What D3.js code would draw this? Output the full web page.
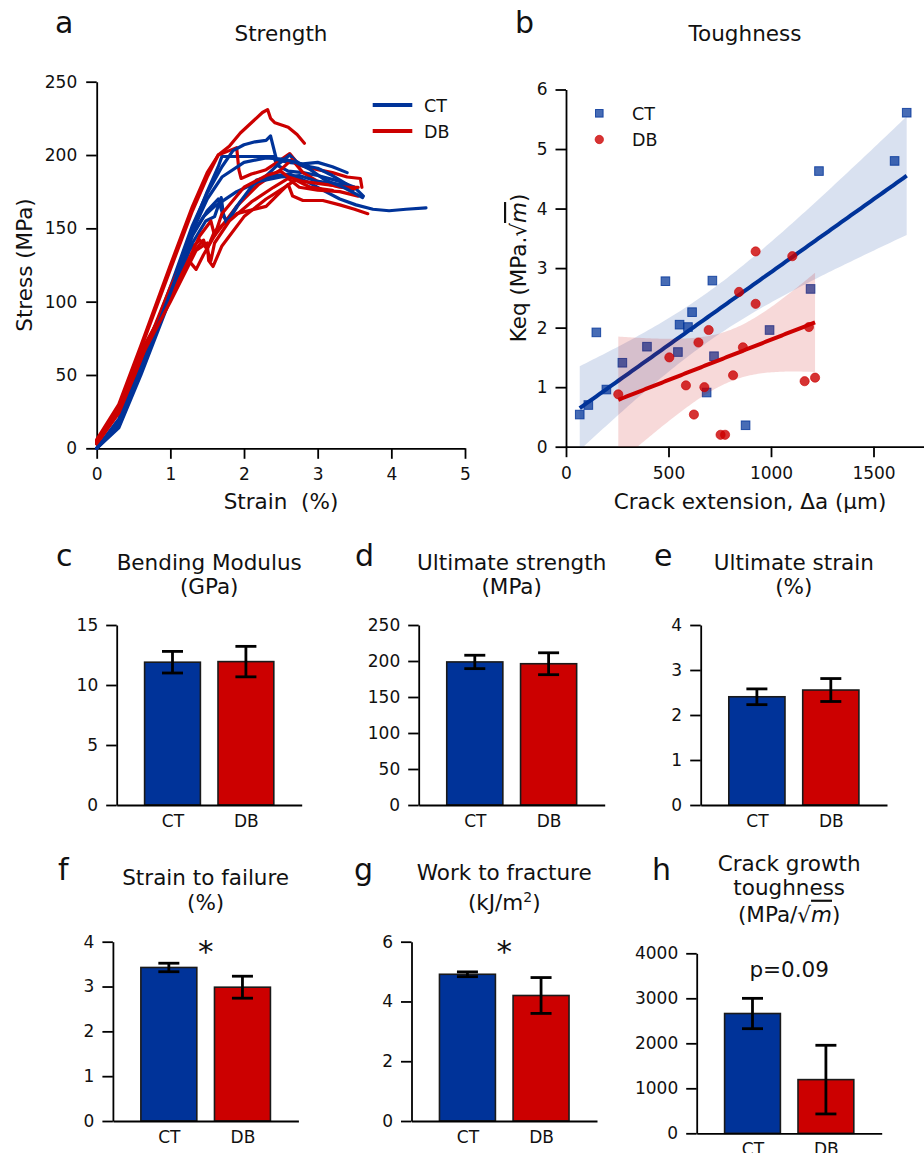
<!DOCTYPE html>
<html>
<head>
<meta charset="utf-8">
<script src="https://cdn.jsdelivr.net/npm/d3@7"></script>
<style>
  body { margin: 0; background: #fff; }
  svg { font-family: "DejaVu Sans", sans-serif; }
</style>
</head>
<body>
<svg id="fig" width="924" height="1153"></svg>
<script>
// ---- data ----
var groups = ["CT", "DB"];

// stress-strain curves, [strain %, stress MPa]
var ctCurves = [
  [[0,0],[0.3,18],[0.6,55],[1.0,108],[1.3,150],[1.5,175],[1.65,192],[1.7,199],[2.0,199],[2.4,199],[2.45,193],[2.6,189],[2.8,188],[3.0,186],[3.3,182],[3.5,178],[3.62,172]],
  [[0,0],[0.3,20],[0.6,57],[1.0,110],[1.3,152],[1.5,174],[1.7,192],[1.85,203],[2.0,207],[2.15,209],[2.3,210],[2.36,213],[2.4,205],[2.44,197],[2.6,195],[2.8,194],[3.0,195],[3.2,192],[3.4,188]],
  [[0,0],[0.3,15],[0.6,52],[1.0,104],[1.3,145],[1.5,162],[1.65,170],[1.72,158],[1.78,155],[1.95,168],[2.2,181],[2.45,193],[2.62,200],[2.7,196],[2.8,193],[3.0,191],[3.2,186],[3.4,180],[3.48,176]],
  [[0,0],[0.3,14],[0.6,50],[1.0,102],[1.3,140],[1.48,155],[1.6,158],[1.69,171],[1.72,160],[1.76,154],[1.9,165],[2.17,183],[2.4,186],[2.62,187],[2.85,182],[3.07,176],[3.3,170],[3.52,166],[3.75,163],[3.97,162],[4.2,163],[4.47,164]],
  [[0,0],[0.3,16],[0.6,53],[1.0,105],[1.3,146],[1.45,158],[1.6,165],[1.9,175],[2.2,182],[2.5,185],[2.75,186],[3.0,182],[3.3,180],[3.5,178]],
  [[0,0],[0.3,17],[0.6,54],[1.0,106],[1.3,148],[1.5,170],[1.7,185],[2.0,195],[2.3,198],[2.55,197],[2.7,195],[2.9,190],[3.1,183],[3.35,178],[3.61,171]]
];
var dbCurves = [
  [[0,6],[0.3,30],[0.6,70],[1.0,125],[1.3,165],[1.5,188],[1.65,200],[1.8,206],[1.95,215],[2.1,222],[2.25,229],[2.32,231],[2.36,225],[2.42,222],[2.6,219],[2.72,214],[2.82,208]],
  [[0,5],[0.3,28],[0.6,68],[1.0,122],[1.3,162],[1.5,185],[1.65,200],[1.8,203],[1.9,205],[1.93,190],[1.96,184],[2.1,187],[2.3,190],[2.45,195],[2.62,201],[2.75,193],[3.0,190],[3.2,188],[3.4,185],[3.58,184],[3.6,178]],
  [[0,3],[0.3,24],[0.6,60],[1.0,110],[1.25,135],[1.4,142],[1.5,136],[1.6,148],[1.9,160],[2.3,165],[2.5,175],[2.6,180],[2.66,172],[2.8,169],[3.07,169],[3.3,166],[3.5,163],[3.68,160]],
  [[0,3],[0.3,25],[0.6,63],[1.0,105],[1.25,128],[1.35,122],[1.45,132],[1.6,145],[1.9,165],[2.2,180],[2.5,190],[2.65,197],[2.8,188],[3.0,182],[3.3,178],[3.5,177]],
  [[0,4],[0.3,26],[0.6,64],[1.0,103],[1.3,133],[1.45,142],[1.5,135],[1.55,128],[1.6,140],[1.8,155],[2.1,168],[2.4,178],[2.6,184],[2.75,178],[3.0,176],[3.3,175],[3.55,172]],
  [[0,5],[0.3,27],[0.6,66],[1.0,102],[1.4,145],[1.55,155],[1.6,145],[1.7,160],[2.0,178],[2.3,186],[2.5,189],[2.6,185],[2.8,182],[3.1,180],[3.4,178],[3.55,178]],
  [[0,4],[0.3,25],[0.6,62],[1.0,100],[1.35,135],[1.5,140],[1.52,128],[1.58,124],[1.7,138],[2.0,158],[2.3,170],[2.55,178],[2.7,183],[2.9,178],[3.2,176]]
];
var strainTicks = [0, 1, 2, 3, 4, 5];
var stressTicks = [0, 50, 100, 150, 200, 250];

// toughness: crack extension (um) and Keq
var ctExt = [67, 109, 148, 197, 275, 395, 485, 546, 554, 595, 615, 686, 714, 722, 876, 993, 1193, 1234, 1603, 1662];
var ctKeq = [0.54, 0.70, 1.92, 0.96, 1.41, 1.68, 2.78, 1.59, 2.05, 2.01, 2.26, 0.91, 2.79, 1.52, 0.36, 1.96, 2.65, 4.63, 4.80, 5.61];
var dbExt = [255, 504, 585, 624, 646, 675, 696, 754, 776, 815, 844, 863, 925, 925, 1104, 1164, 1185, 1215];
var dbKeq = [0.88, 1.50, 1.03, 0.54, 1.75, 1.00, 1.96, 0.20, 0.20, 1.20, 2.60, 1.67, 3.28, 2.40, 3.20, 1.10, 2.01, 1.16];
var extTicks = [0, 500, 1000, 1500];
var keqTicks = [0, 1, 2, 3, 4, 5, 6];

// bar panels: mean and error per group
var modulusMean = [11.9, 11.95],  modulusErr = [0.9, 1.27],  modulusTicks = [0, 5, 10, 15];
var ultStrengthMean = [198.7, 196.2], ultStrengthErr = [9.3, 15.2], ultStrengthTicks = [0, 50, 100, 150, 200, 250];
var ultStrainMean = [2.405, 2.555], ultStrainErr = [0.175, 0.255], ultStrainTicks = [0, 1, 2, 3, 4];
var failStrainMean = [3.425, 2.985], failStrainErr = [0.095, 0.245], failStrainTicks = [0, 1, 2, 3, 4];
var workMean = [4.91, 4.2], workErr = [0.08, 0.6], workTicks = [0, 2, 4, 6];
var crackMean = [2662, 1193], crackErr = [337, 763], crackTicks = [0, 1000, 2000, 3000, 4000];

var blue = "#003399", red = "#cc0000";
var colors = [blue, red];

var svg = d3.select("#fig");

function styleAxis(g) {
  g.selectAll(".domain").attr("stroke", "#000").attr("stroke-width", 1.8);
  g.selectAll(".tick line").attr("stroke", "#000").attr("stroke-width", 1.8);
  g.selectAll(".tick text").attr("fill", "#111").style("font-size", "17px")
    .style("font-family", "DejaVu Sans");
}

function label(x, y, txt, size, anchor) {
  return svg.append("text").attr("x", x).attr("y", y)
    .attr("text-anchor", anchor || "middle")
    .style("font-size", size + "px").attr("fill", "#111").text(txt);
}

// ---- panel a: stress-strain ----
var xa = d3.scaleLinear().domain([0, 5]).range([96.7, 465]);
var ya = d3.scaleLinear().domain([0, 250]).range([448.3, 81.7]);

svg.append("g").attr("transform", "translate(0,448.3)")
  .call(d3.axisBottom(xa).tickValues(strainTicks).tickFormat(d3.format("d")).tickSize(10.5).tickPadding(9).tickSizeOuter(0))
  .call(styleAxis);
svg.append("g").attr("transform", "translate(96.7,0)")
  .call(d3.axisLeft(ya).tickValues(stressTicks).tickFormat(d3.format("d")).tickSize(10.5).tickPadding(9).tickSizeOuter(0))
  .call(styleAxis);

var lineA = d3.line().x(function(d) { return xa(d[0]); }).y(function(d) { return ya(d[1]); });
var curves = [];
for (var i = 0; i < Math.max(ctCurves.length, dbCurves.length); i++) {
  if (dbCurves[i]) curves.push({ c: red, d: dbCurves[i] });
  if (ctCurves[i]) curves.push({ c: blue, d: ctCurves[i] });
}
svg.append("g").selectAll("path").data(curves).join("path")
  .attr("d", function(d) { return lineA(d.d); })
  .attr("fill", "none").attr("stroke", function(d) { return d.c; })
  .attr("stroke-width", 3.2).attr("stroke-linejoin", "round").attr("stroke-linecap", "round");

groups.forEach(function(gname, i) {
  var y = 105 + i * 26;
  svg.append("line").attr("x1", 372.7).attr("x2", 412.3).attr("y1", y).attr("y2", y)
    .attr("stroke", colors[i]).attr("stroke-width", 4);
  label(424, y + 6.5, gname, 17.5, "start");
});

label(55, 33, "a", 30, "start");
label(281, 41, "Strength", 21.5);
label(281, 509, "Strain\u00a0\u00a0(%)", 21.5);
svg.append("text").attr("transform", "translate(31.5,265) rotate(-90)")
  .attr("text-anchor", "middle").style("font-size", "21.5px").attr("fill", "#111").text("Stress (MPa)");

// ---- panel b: toughness ----
var xb = d3.scaleLinear().domain([0, 1750]).range([566, 924.75]);
var yb = d3.scaleLinear().domain([0, 6]).range([446.7, 89.5]);

svg.append("g").attr("transform", "translate(0,446.7)")
  .call(d3.axisBottom(xb).tickValues(extTicks).tickFormat(d3.format("d")).tickSize(10.5).tickPadding(10).tickSizeOuter(0))
  .call(styleAxis);
svg.append("g").attr("transform", "translate(566,0)")
  .call(d3.axisLeft(yb).tickValues(keqTicks).tickFormat(d3.format("d")).tickSize(10.5).tickPadding(8).tickSizeOuter(0))
  .call(styleAxis);

function regress(xs, ys) {
  var n = xs.length, mx = d3.mean(xs), my = d3.mean(ys);
  var sxx = d3.sum(xs, function(x) { return (x - mx) * (x - mx); });
  var sxy = d3.sum(xs, function(x, i) { return (x - mx) * (ys[i] - my); });
  var b = sxy / sxx, a = my - b * mx;
  var s2 = d3.sum(xs, function(x, i) { var r = ys[i] - a - b * x; return r * r; }) / (n - 2);
  var t = 1.96 + 2.4 / (n - 2);
  var lo = d3.min(xs), hi = d3.max(xs);
  var pts = d3.range(0, 101).map(function(k) {
    var x = lo + (hi - lo) * k / 100, yhat = a + b * x;
    var se = Math.sqrt(s2 * (1 / n + (x - mx) * (x - mx) / sxx));
    return { x: x, y: yhat, y0: yhat - t * se, y1: yhat + t * se };
  });
  return pts;
}

svg.append("clipPath").attr("id", "clipb").append("rect")
  .attr("x", 566).attr("y", 89.5).attr("width", 360).attr("height", 446.7 - 89.5);

function drawGroup(xs, ys, color, marker) {
  var pts = xs.map(function(x, i) { return [x, ys[i]]; });
  var gp = svg.append("g");
  if (marker === "square") {
    gp.selectAll("rect").data(pts).join("rect")
      .attr("x", function(d) { return xb(d[0]) - 4.3; }).attr("y", function(d) { return yb(d[1]) - 4.3; })
      .attr("width", 8.6).attr("height", 8.6)
      .attr("fill", color).attr("fill-opacity", 0.72)
      .attr("stroke", color).attr("stroke-opacity", 0.8).attr("stroke-width", 1);
  } else {
    gp.selectAll("circle").data(pts).join("circle")
      .attr("cx", function(d) { return xb(d[0]); }).attr("cy", function(d) { return yb(d[1]); })
      .attr("r", 4.6).attr("fill", color).attr("fill-opacity", 0.8)
      .attr("stroke", color).attr("stroke-opacity", 0.6).attr("stroke-width", 1);
  }
  var fit = regress(xs, ys);
  svg.append("path").datum(fit).attr("clip-path", "url(#clipb)")
    .attr("d", d3.area().x(function(d) { return xb(d.x); })
      .y0(function(d) { return yb(d.y0); }).y1(function(d) { return yb(d.y1); }))
    .attr("fill", color).attr("fill-opacity", 0.15);
  svg.append("path").datum(fit)
    .attr("d", d3.line().x(function(d) { return xb(d.x); }).y(function(d) { return yb(d.y); }))
    .attr("fill", "none").attr("stroke", color).attr("stroke-width", 4);
}
drawGroup(ctExt, ctKeq, blue, "square");
drawGroup(dbExt, dbKeq, red, "circle");

svg.append("rect").attr("x", 595.5).attr("y", 109.5).attr("width", 7.6).attr("height", 7.6)
  .attr("fill", blue).attr("fill-opacity", 0.72).attr("stroke", blue).attr("stroke-opacity", 0.8);
svg.append("circle").attr("cx", 599.3).attr("cy", 139.5).attr("r", 4.2)
  .attr("fill", red).attr("fill-opacity", 0.8).attr("stroke", red).attr("stroke-opacity", 0.6);
label(632, 119.5, "CT", 17.5, "start");
label(632, 145.5, "DB", 17.5, "start");

label(515, 33, "b", 30, "start");
label(745, 41, "Toughness", 21.5);
label(750, 508.5, "Crack extension, \u0394a (\u03bcm)", 21.5);
var kl = svg.append("text").attr("transform", "translate(526,268) rotate(-90)")
  .attr("text-anchor", "middle").style("font-size", "21.5px").attr("fill", "#111");
kl.append("tspan").text("Keq (MPa.\u221a");
kl.append("tspan").style("font-style", "italic").style("text-decoration", "overline").text("m");
kl.append("tspan").text(")");

// ---- bar panels ----
function barPanel(p) {
  var x = d3.scaleLinear().domain([-0.76, 1.76]).range([p.x0, p.x1]);
  var y = d3.scaleLinear().domain([0, d3.max(p.ticks)]).range([p.y1, p.y0]);
  var bw = x(0.76) - x(0);
  var g = svg.append("g");
  g.selectAll("rect").data(p.mean).join("rect")
    .attr("x", function(d, i) { return x(i) - bw / 2; })
    .attr("y", function(d) { return y(d); })
    .attr("width", bw).attr("height", function(d) { return y(0) - y(d); })
    .attr("fill", function(d, i) { return colors[i]; })
    .attr("stroke", "#1a1a1a").attr("stroke-width", 1.6);
  var eb = g.selectAll("g.err").data(p.mean).join("g").attr("class", "err");
  eb.append("line")
    .attr("x1", function(d, i) { return x(i); }).attr("x2", function(d, i) { return x(i); })
    .attr("y1", function(d, i) { return y(d - p.err[i]); }).attr("y2", function(d, i) { return y(d + p.err[i]); });
  [-1, 1].forEach(function(s) {
    eb.append("line")
      .attr("x1", function(d, i) { return x(i) - 10.5; }).attr("x2", function(d, i) { return x(i) + 10.5; })
      .attr("y1", function(d, i) { return y(d + s * p.err[i]); }).attr("y2", function(d, i) { return y(d + s * p.err[i]); });
  });
  eb.selectAll("line").attr("stroke", "#000").attr("stroke-width", 2.8);

  svg.append("g").attr("transform", "translate(0," + p.y1 + ")")
    .call(d3.axisBottom(x).tickValues([0, 1]).tickFormat(function(d) { return groups[d]; })
      .tickSize(0).tickPadding(10).tickSizeOuter(0))
    .call(styleAxis);
  svg.append("g").attr("transform", "translate(" + p.x0 + ",0)")
    .call(d3.axisLeft(y).tickValues(p.ticks).tickFormat(d3.format("d")).tickSize(10.5).tickPadding(8).tickSizeOuter(0))
    .call(styleAxis);

  var cx = (p.x0 + p.x1) / 2;
  p.title.forEach(function(t, k) {
    var tx = svg.append("text").attr("x", cx).attr("y", p.titleY[k]).attr("text-anchor", "middle")
      .style("font-size", "21.5px").attr("fill", "#111");
    t.forEach(function(part) {
      var ts = tx.append("tspan").text(part.s);
      if (part.it) ts.style("font-style", "italic").style("text-decoration", "overline");
      if (part.sup) ts.attr("baseline-shift", "super").style("font-size", "14px");
    });
  });
  label(p.lx, p.ly, p.letter, 30, "start");
  if (p.note) label(cx, p.note.y, p.note.s, p.note.size);
}

barPanel({ x0: 116.7, x1: 301.7, y0: 625, y1: 805, mean: modulusMean, err: modulusErr, ticks: modulusTicks,
  title: [[{ s: "Bending Modulus" }], [{ s: "(GPa)" }]], titleY: [570, 593.5], letter: "c", lx: 56, ly: 566 });
barPanel({ x0: 418.7, x1: 604.7, y0: 625, y1: 805, mean: ultStrengthMean, err: ultStrengthErr, ticks: ultStrengthTicks,
  title: [[{ s: "Ultimate strength" }], [{ s: "(MPa)" }]], titleY: [570, 593.5], letter: "d", lx: 355, ly: 566 });
barPanel({ x0: 700.7, x1: 887, y0: 625, y1: 805, mean: ultStrainMean, err: ultStrainErr, ticks: ultStrainTicks,
  title: [[{ s: "Ultimate strain" }], [{ s: "(%)" }]], titleY: [570, 593.5], letter: "e", lx: 654, ly: 566 });
barPanel({ x0: 112.9, x1: 298.4, y0: 941.7, y1: 1121, mean: failStrainMean, err: failStrainErr, ticks: failStrainTicks,
  title: [[{ s: "Strain to failure" }], [{ s: "(%)" }]], titleY: [885, 910], letter: "f", lx: 58, ly: 880,
  note: { s: "*", y: 962, size: 31 } });
barPanel({ x0: 411.5, x1: 597, y0: 941.7, y1: 1121, mean: workMean, err: workErr, ticks: workTicks,
  title: [[{ s: "Work to fracture" }], [{ s: "(kJ/m" }, { s: "2", sup: true }, { s: ")" }]], titleY: [880, 910],
  letter: "g", lx: 354, ly: 880, note: { s: "*", y: 962, size: 31 } });
barPanel({ x0: 696.7, x1: 881.7, y0: 953.3, y1: 1133.3, mean: crackMean, err: crackErr, ticks: crackTicks,
  title: [[{ s: "Crack growth" }], [{ s: "toughness" }], [{ s: "(MPa/\u221a" }, { s: "m", it: true }, { s: ")" }]],
  titleY: [870.7, 895, 921.7], letter: "h", lx: 652, ly: 880, note: { s: "p=0.09", y: 976.7, size: 21.5 } });
</script>
</body>
</html>
